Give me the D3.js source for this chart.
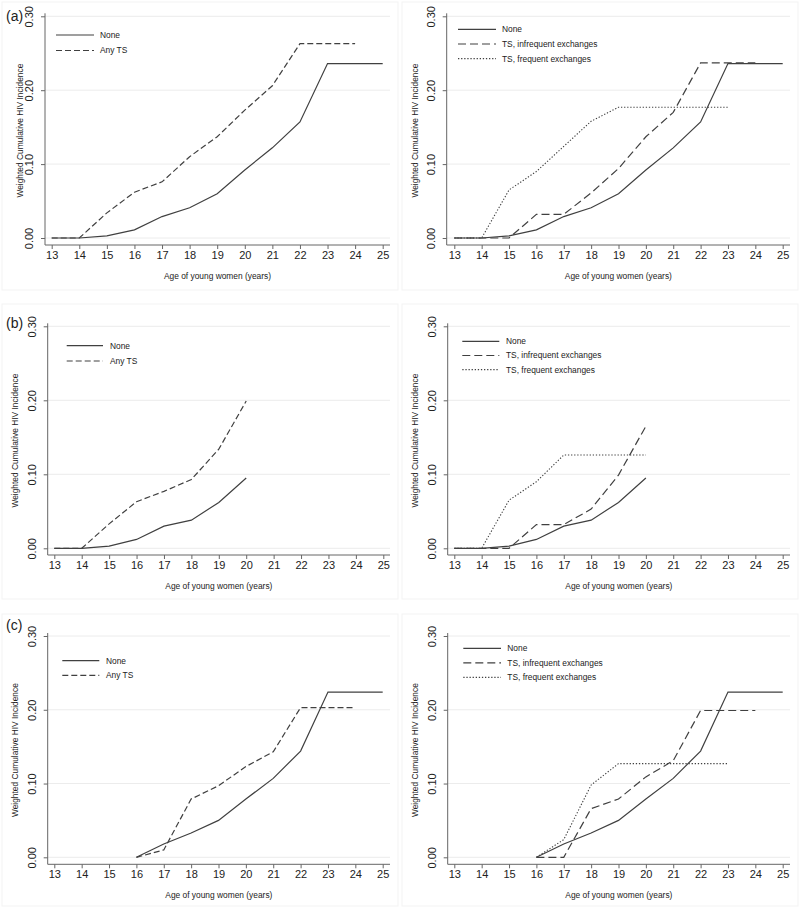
<!DOCTYPE html>
<html>
<head>
<meta charset="utf-8">
<script src="https://cdn.jsdelivr.net/npm/d3@7"></script>
<style>
  html, body { margin: 0; padding: 0; background: #fff; }
  svg { display: block; font-family: "Liberation Sans", Arial, Helvetica, sans-serif; }
</style>
</head>
<body>
<svg id="chart" width="800" height="910"></svg>
<script>
// ---- Data ----
const ages = [13, 14, 15, 16, 17, 18, 19, 20, 21, 22, 23, 24, 25];
const yTicks = [0, 0.1, 0.2, 0.3];
const yTickLabels = ["0.00", "0.10", "0.20", "0.30"];
const xTitle = "Age of young women (years)";
const yTitle = "Weighted Cumulative HIV Incidence";
const panelLabels = ["(a)", "(b)", "(c)"];

const seriesNames2 = ["None", "Any TS"];
const seriesNames3 = ["None", "TS, infrequent exchanges", "TS, frequent exchanges"];

// (a)
const aNone   = [0, 0, 0.003, 0.011, 0.029, 0.041, 0.060, 0.092, 0.122, 0.157, 0.236, 0.236, 0.236];
const aAnyTS  = [0, 0, 0.034, 0.062, 0.076, 0.110, 0.137, 0.173, 0.206, 0.263, 0.263, 0.263, null];
const aInfreq = [0, 0, 0, 0.032, 0.032, 0.061, 0.094, 0.137, 0.170, 0.237, 0.237, 0.237, null];
const aFreq   = [0, 0, 0.065, 0.090, 0.124, 0.158, 0.177, 0.177, 0.177, 0.177, 0.177, null, null];
// (b)
const bNone   = [0, 0, 0.003, 0.012, 0.030, 0.038, 0.062, 0.095, null, null, null, null, null];
const bAnyTS  = [0, 0, 0.033, 0.063, 0.077, 0.093, 0.134, 0.199, null, null, null, null, null];
const bInfreq = [0, 0, 0, 0.032, 0.032, 0.053, 0.099, 0.165, null, null, null, null, null];
const bFreq   = [0, 0, 0.065, 0.090, 0.126, 0.126, 0.126, 0.126, null, null, null, null, null];
// (c)
const cNone   = [null, null, null, 0, 0.018, 0.033, 0.050, 0.079, 0.107, 0.144, 0.224, 0.224, 0.224];
const cAnyTS  = [null, null, null, 0, 0.010, 0.079, 0.097, 0.123, 0.143, 0.203, 0.203, 0.203, null];
const cInfreq = [null, null, null, 0, 0, 0.066, 0.079, 0.109, 0.131, 0.199, 0.199, 0.199, null];
const cFreq   = [null, null, null, 0, 0.024, 0.098, 0.127, 0.127, 0.127, 0.127, 0.127, null, null];

// ---- Styles ----
const lineColor = "#404040";
const dashes = { "None": null, "Any TS": "6,3", "TS, infrequent exchanges": "8,4", "TS, frequent exchanges": "1.3,1.8" };

// ---- Layout ----
const panels = [
  { label: "(a)", names: seriesNames2, data: [aNone, aAnyTS], box: [2, 2, 398, 290],
    axX: 45, x0: 51.7, x1: 382.7, y0: 238, y1: 16.3, axY: 245, gridR: 390, yTitleX: 20,
    leg: [56, 94, 35, 15.5, 100], lab: [6, 21] },
  { label: null, names: seriesNames3, data: [aNone, aInfreq, aFreq], box: [402, 2, 798, 290],
    axX: 446.7, x0: 454.3, x1: 782.7, y0: 238, y1: 16.3, axY: 245, gridR: 790, yTitleX: 415,
    leg: [458, 496, 29.3, 14.7, 502] },
  { label: "(b)", names: seriesNames2, data: [bNone, bAnyTS], box: [2, 304, 398, 599],
    axX: 47.7, x0: 54.3, x1: 383.3, y0: 548.3, y1: 326.3, axY: 555, gridR: 390, yTitleX: 15,
    leg: [66.7, 103, 345.7, 15.3, 110], lab: [6, 328] },
  { label: null, names: seriesNames3, data: [bNone, bInfreq, bFreq], box: [402, 304, 798, 599],
    axX: 447.7, x0: 454.3, x1: 782.7, y0: 548.3, y1: 326.3, axY: 555, gridR: 790, yTitleX: 415,
    leg: [462.3, 499.3, 341.3, 14.2, 506] },
  { label: "(c)", names: seriesNames2, data: [cNone, cAnyTS], box: [2, 614, 398, 906],
    axX: 47.7, x0: 54.3, x1: 382.7, y0: 857.3, y1: 636, axY: 864.3, gridR: 390, yTitleX: 15,
    leg: [62.3, 99.3, 660.7, 14.6, 106], lab: [6, 630] },
  { label: null, names: seriesNames3, data: [cNone, cInfreq, cFreq], box: [402, 614, 798, 906],
    axX: 447.7, x0: 454.3, x1: 782.7, y0: 857.3, y1: 636, axY: 864.3, gridR: 790, yTitleX: 415,
    leg: [463.3, 501, 648.3, 14.5, 507.3] }
];

const svg = d3.select("#chart");

panels.forEach(p => {
  const g = svg.append("g");
  // faint panel border
  g.append("rect")
    .attr("x", p.box[0]).attr("y", p.box[1])
    .attr("width", p.box[2] - p.box[0]).attr("height", p.box[3] - p.box[1])
    .attr("fill", "none").attr("stroke", "#f3f3f3").attr("stroke-width", 1);

  const x = d3.scaleLinear().domain([13, 25]).range([p.x0, p.x1]);
  const y = d3.scaleLinear().domain([0, 0.3]).range([p.y0, p.y1]);

  // gridlines
  g.selectAll(".grid").data(yTicks).enter().append("line")
    .attr("x1", p.axX).attr("x2", p.gridR)
    .attr("y1", d => y(d)).attr("y2", d => y(d))
    .attr("stroke", "#ececec").attr("stroke-width", 1);

  // y axis
  const yAxis = d3.axisLeft(y).tickValues(yTicks)
    .tickFormat((d, i) => yTickLabels[i]).tickSize(4).tickSizeOuter(0);
  const ya = g.append("g").attr("transform", `translate(${p.axX},0)`).call(yAxis);
  ya.select(".domain").remove();
  ya.append("line").attr("x1", 0).attr("x2", 0).attr("y1", p.y1 - 3).attr("y2", p.axY)
    .attr("stroke", "#666").attr("stroke-width", 1);
  ya.selectAll(".tick line").attr("stroke", "#666");
  ya.selectAll(".tick text")
    .attr("x", null).attr("dy", null)
    .attr("transform", "translate(-12,0) rotate(-90)")
    .attr("text-anchor", "middle")
    .attr("fill", "#222").attr("font-size", 11)
    .attr("font-family", "'Liberation Sans', Arial, sans-serif");

  // x axis
  const xAxis = d3.axisBottom(x).tickValues(ages).tickFormat(d3.format("d"))
    .tickSize(4).tickSizeOuter(0);
  const xa = g.append("g").attr("transform", `translate(0,${p.axY})`).call(xAxis);
  xa.select(".domain").remove();
  xa.append("line").attr("x1", p.axX).attr("x2", p.gridR).attr("y1", 0).attr("y2", 0)
    .attr("stroke", "#666").attr("stroke-width", 1);
  xa.selectAll(".tick line").attr("stroke", "#666");
  xa.selectAll(".tick text").attr("fill", "#222").attr("font-size", 11)
    .attr("y", 6).attr("font-family", "'Liberation Sans', Arial, sans-serif");

  // axis titles
  g.append("text").attr("x", (p.axX + p.gridR) / 2).attr("y", p.axY + 34)
    .attr("text-anchor", "middle").attr("font-size", 8.4).attr("fill", "#222").text(xTitle);
  g.append("text")
    .attr("transform", `translate(${p.yTitleX},${(p.y1 + p.axY) / 2}) rotate(-90)`)
    .attr("text-anchor", "middle").attr("dy", "0.35em")
    .attr("font-size", 8.4).attr("fill", "#222").text(yTitle);

  // lines
  const lineGen = d3.line()
    .defined(d => d.v !== null)
    .x(d => x(d.age)).y(d => y(d.v));
  p.data.forEach((arr, si) => {
    const name = p.names[si];
    const pts = ages.map((a, i) => ({ age: a, v: arr[i] }));
    g.append("path").datum(pts)
      .attr("d", lineGen)
      .attr("fill", "none")
      .attr("stroke", lineColor)
      .attr("stroke-width", name === "TS, frequent exchanges" ? 1.1 : 1.2)
      .attr("stroke-dasharray", dashes[name]);
  });

  // legend
  const [lx1, lx2, ly, ldy, ltx] = p.leg;
  p.names.forEach((name, i) => {
    const yy = ly + i * ldy;
    g.append("line").attr("x1", lx1).attr("x2", lx2).attr("y1", yy).attr("y2", yy)
      .attr("stroke", lineColor).attr("stroke-width", 1.2)
      .attr("stroke-dasharray", dashes[name]);
    g.append("text").attr("x", ltx).attr("y", yy).attr("dy", "0.35em")
      .attr("font-size", 8.4).attr("fill", "#222").text(name);
  });

  // panel label
  if (p.label) {
    g.append("text").attr("x", p.lab[0]).attr("y", p.lab[1])
      .attr("font-size", 14).attr("fill", "#222").text(p.label);
  }
});
</script>
</body>
</html>
